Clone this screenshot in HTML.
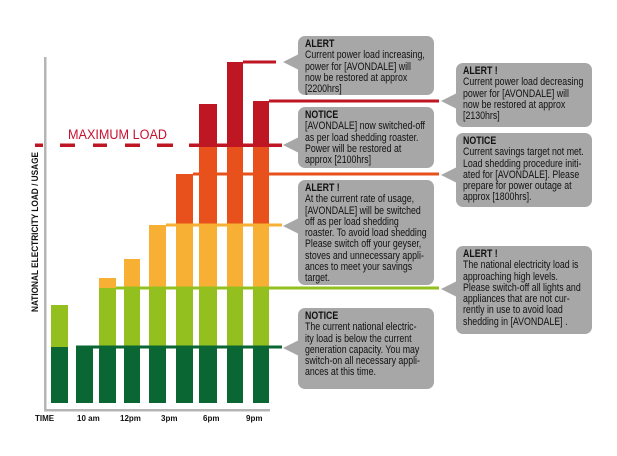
<!DOCTYPE html>
<html><head><meta charset="utf-8"><style>
html,body{margin:0;padding:0;background:#fff;}
body{width:617px;height:456px;position:relative;overflow:hidden;font-family:"Liberation Sans",sans-serif;}
svg{position:absolute;left:0;top:0;}
.b{position:absolute;background:#a7a7a7;border-radius:7px;width:136px;}
.b:before{content:"";position:absolute;left:-15px;border-right:16px solid #a7a7a7;border-top:8px solid transparent;border-bottom:8px solid transparent;top:var(--py);}
.t{position:absolute;left:7px;top:3px;font-size:11px;line-height:11.3px;color:#111;white-space:nowrap;transform:scaleX(0.8);transform-origin:0 0;}
.t b{font-weight:bold;}
.lab{position:absolute;font-size:8px;font-weight:bold;color:#111;top:414px;}
</style></head><body>
<svg width="617" height="456">
<rect x="44" y="57" width="2.5" height="354" fill="#b5b5b5"/>
<rect x="44" y="409" width="226" height="2.5" fill="#b5b5b5"/>
<g fill="#0a6633">
<rect x="51" y="347" width="17" height="56"/><rect x="76" y="347" width="17" height="56"/><rect x="99" y="347" width="17" height="56"/><rect x="124" y="347" width="16" height="56"/><rect x="149" y="347" width="17" height="56"/><rect x="176" y="347" width="17" height="56"/><rect x="199" y="347" width="18" height="56"/><rect x="227" y="347" width="16" height="56"/><rect x="253" y="347" width="16" height="56"/>
</g>
<g fill="#93c01f">
<rect x="51" y="305" width="17" height="42"/><rect x="99" y="288" width="17" height="59"/><rect x="124" y="288" width="16" height="59"/><rect x="149" y="288" width="17" height="59"/><rect x="176" y="288" width="17" height="59"/><rect x="199" y="288" width="18" height="59"/><rect x="227" y="288" width="16" height="59"/><rect x="253" y="288" width="16" height="59"/>
</g>
<g fill="#f7b033">
<rect x="99" y="278" width="17" height="10"/><rect x="124" y="259" width="16" height="29"/><rect x="149" y="225" width="17" height="63"/><rect x="176" y="225" width="17" height="63"/><rect x="199" y="225" width="18" height="63"/><rect x="227" y="225" width="16" height="63"/><rect x="253" y="225" width="16" height="63"/>
</g>
<g fill="#e8501c">
<rect x="176" y="174" width="17" height="51"/><rect x="199" y="145" width="18" height="80"/><rect x="227" y="145" width="16" height="80"/><rect x="253" y="145" width="16" height="80"/>
</g>
<g fill="#be1622">
<rect x="199" y="104" width="18" height="41"/><rect x="227" y="62" width="16" height="83"/><rect x="253" y="101" width="16" height="44"/>
</g>
<rect x="76" y="345.5" width="206" height="3" fill="#0a6633"/>
<rect x="116" y="286.5" width="323" height="3" fill="#93c01f"/>
<rect x="166" y="223.5" width="116" height="3" fill="#f7b033"/>
<rect x="193" y="172.5" width="246" height="3" fill="#e8501c"/>
<rect x="243" y="60.5" width="33" height="3" fill="#be1622"/>
<rect x="269" y="99.5" width="170" height="3" fill="#be1622"/>
<g fill="#be1622">
<rect x="35" y="143.5" width="8" height="3.5"/><rect x="60" y="143.5" width="15" height="3.5"/><rect x="93" y="143.5" width="14" height="3.5"/><rect x="125" y="143.5" width="15" height="3.5"/><rect x="157" y="143.5" width="16" height="3.5"/><rect x="189" y="143.5" width="93" height="3.5"/>
</g>
<text x="68" y="139" font-family="Liberation Sans" font-size="13.5" fill="#c8102e" textLength="99" lengthAdjust="spacingAndGlyphs">MAXIMUM  LOAD</text>
<text transform="translate(38,312) rotate(-90)" font-family="Liberation Sans" font-size="9" font-weight="bold" fill="#111" textLength="160" lengthAdjust="spacingAndGlyphs">NATIONAL ELECTRICITY LOAD / USAGE</text>
</svg>
<div class="lab" style="left:35px">TIME</div>
<div class="lab" style="left:77px">10 am</div>
<div class="lab" style="left:120px">12pm</div>
<div class="lab" style="left:161px">3pm</div>
<div class="lab" style="left:203px">6pm</div>
<div class="lab" style="left:246px">9pm</div>

<div class="b" style="left:298px;top:36px;height:59px;--py:18px"><div class="t"><b>ALERT</b><br>Current power load increasing,<br>power for [AVONDALE] will<br>now be restored at approx<br>[2200hrs]</div></div>
<div class="b" style="left:298px;top:107px;height:61px;--py:30px"><div class="t"><b>NOTICE</b><br>[AVONDALE] now switched-off<br>as per load shedding roaster.<br>Power will be restored at<br>approx [2100hrs]</div></div>
<div class="b" style="left:298px;top:180px;height:105px;--py:38px"><div class="t"><b>ALERT !</b><br>At the current rate of usage,<br>[AVONDALE] will be switched<br>off as per load shedding<br>roaster. To avoid load shedding<br>Please switch off your geyser,<br>stoves and unnecessary appli-<br>ances to meet your savings<br>target.</div></div>
<div class="b" style="left:298px;top:308px;height:81px;--py:32px"><div class="t"><b>NOTICE</b><br>The current national electric-<br>ity load is below the current<br>generation capacity. You may<br>switch-on all necessary appli-<br>ances at this time.</div></div>
<div class="b" style="left:456px;top:63px;height:64px;--py:30px"><div class="t"><b>ALERT !</b><br>Current power load decreasing<br>power for [AVONDALE]  will<br>now be restored at approx<br>[2130hrs]</div></div>
<div class="b" style="left:456px;top:133px;height:74px;--py:34px"><div class="t"><b>NOTICE</b><br>Current savings target not met.<br>Load shedding procedure initi-<br>ated for [AVONDALE]. Please<br>prepare for power outage at<br>approx [1800hrs].</div></div>
<div class="b" style="left:456px;top:246px;height:88px;--py:35px"><div class="t"><b>ALERT !</b><br>The national electricity load is<br>approaching high levels.<br>Please switch-off all lights and<br>appliances that are not cur-<br>rently in use to avoid load<br>shedding in [AVONDALE] .</div></div>
</body></html>
